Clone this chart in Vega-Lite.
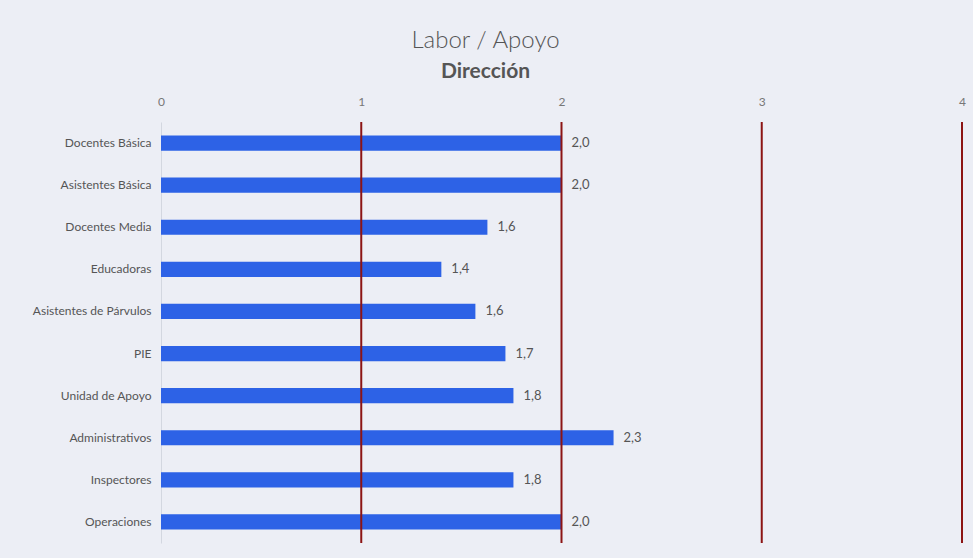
{
  "$schema": "https://vega.github.io/schema/vega-lite/v6.json",
  "width": 801,
  "height": 421,
  "autosize": {"type": "none"},
  "padding": {"left": 161, "top": 122, "right": 11, "bottom": 15},
  "background": "#eceef5",
  "config": {
    "locale": {"number": {"decimal": ",", "thousands": ".", "grouping": [3], "currency": ["$", ""]}},
    "view": {"stroke": null},
    "font": "Lato"
  },
  "title": {
    "text": "Labor / Apoyo",
    "subtitle": "Dirección",
    "anchor": "middle",
    "dx": -76,
    "offset": 13,
    "fontSize": 24,
    "fontWeight": 300,
    "color": "#555555",
    "subtitleFontSize": 21,
    "subtitleFontWeight": "bold",
    "subtitleColor": "#555555",
    "subtitlePadding": 8,
    "font": "Lato",
    "subtitleFont": "Lato"
  },
  "datasets": {
    "bars": [
      {"grupo": "Docentes Básica", "valor": 2.0},
      {"grupo": "Asistentes Básica", "valor": 2.0},
      {"grupo": "Docentes Media", "valor": 1.63},
      {"grupo": "Educadoras", "valor": 1.4},
      {"grupo": "Asistentes de Párvulos", "valor": 1.57},
      {"grupo": "PIE", "valor": 1.72},
      {"grupo": "Unidad de Apoyo", "valor": 1.76},
      {"grupo": "Administrativos", "valor": 2.26},
      {"grupo": "Inspectores", "valor": 1.76},
      {"grupo": "Operaciones", "valor": 2.0}
    ],
    "refs": [{"v": 1}, {"v": 2}, {"v": 3}, {"v": 4}]
  },
  "layer": [
    {
      "data": {"name": "bars"},
      "mark": {"type": "bar", "color": "#2d62e6"},
      "encoding": {
        "y": {
          "field": "grupo", "type": "nominal", "sort": null, "title": null,
          "scale": {"paddingInner": 0.64, "paddingOuter": 0.32},
          "axis": {"ticks": false, "domain": true, "domainColor": "#d3d7e0", "domainWidth": 1, "labelPadding": 10, "labelFontSize": 12, "labelColor": "#555555", "labelFont": "Lato"}
        },
        "x": {
          "field": "valor", "type": "quantitative", "title": null,
          "scale": {"domain": [0, 4], "nice": false},
          "axis": {"orient": "top", "values": [0, 1, 2, 3, 4], "format": "d", "ticks": false, "domain": false, "grid": false, "labelPadding": 14, "labelFontSize": 12, "labelColor": "#777777", "labelFont": "Lato", "labelFlush": false}
        }
      }
    },
    {
      "data": {"name": "refs"},
      "mark": {"type": "rule", "color": "#8c1414", "strokeWidth": 2},
      "encoding": {
        "x": {"field": "v", "type": "quantitative"}
      }
    },
    {
      "data": {"name": "bars"},
      "mark": {"type": "text", "align": "left", "dx": 10, "fontSize": 13, "color": "#555555", "font": "Lato"},
      "encoding": {
        "y": {"field": "grupo", "type": "nominal", "sort": null},
        "x": {"field": "valor", "type": "quantitative"},
        "text": {"field": "valor", "type": "quantitative", "format": ".1f"}
      }
    }
  ]
}
